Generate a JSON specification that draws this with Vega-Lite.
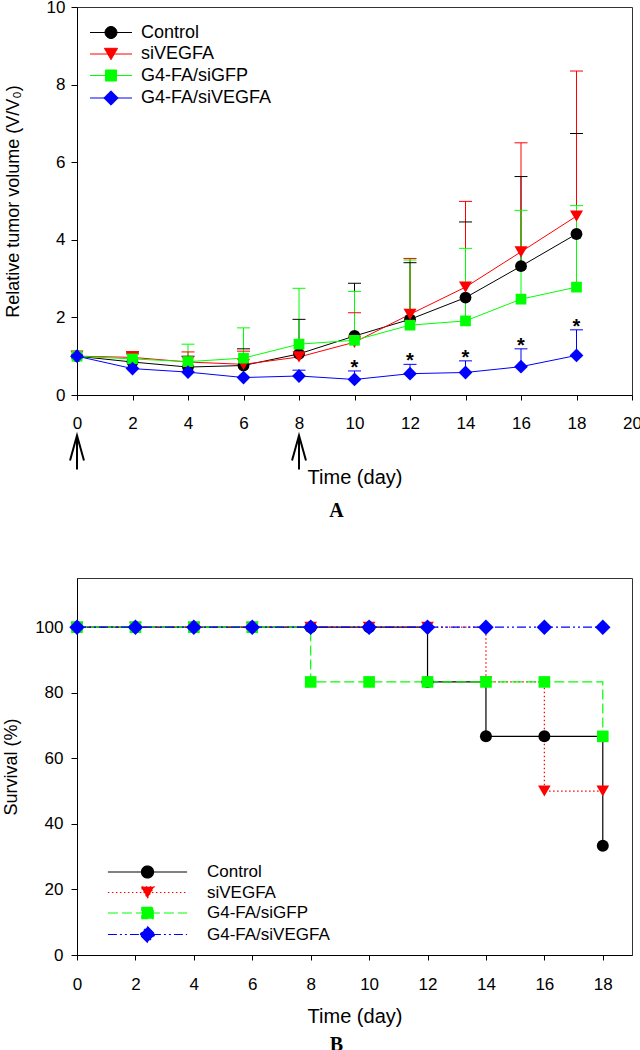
{
  "$schema": "https://vega.github.io/schema/vega-lite/v6.json",
  "background": "white",
  "padding": {"left": 2, "top": -3, "right": 0, "bottom": 0},
  "spacing": 55,
  "columns": 1,
  "resolve": {"scale": {"fill": "independent", "stroke": "independent", "shape": "independent", "strokeDash": "independent"}},
  "config": {
    "font": "Liberation Sans",
    "view": {"stroke": "#333", "strokeWidth": 1},
    "axis": {"domainColor": "black", "tickColor": "black", "labelColor": "black", "titleColor": "black", "grid": false, "labelFont": "Liberation Sans", "titleFont": "Liberation Sans", "labelFontSize": 17, "titleFontWeight": "normal", "titleFontSize": 18, "tickSize": 6, "domainWidth": 1, "tickWidth": 1, "labelFlush": false, "labelOverlap": false},
    "legend": {"labelFont": "Liberation Sans", "labelColor": "black", "padding": 0},
    "title": {"font": "Liberation Serif", "fontWeight": "bold", "fontSize": 20, "orient": "bottom", "anchor": "middle", "color": "black"}
  },
  "datasets": {
    "growth": [
      {"series": "Control", "day": 0, "mean": 1.0}, {"series": "Control", "day": 2, "mean": 0.85}, {"series": "Control", "day": 4, "mean": 0.72}, {"series": "Control", "day": 6, "mean": 0.76}, {"series": "Control", "day": 8, "mean": 1.06}, {"series": "Control", "day": 10, "mean": 1.52}, {"series": "Control", "day": 12, "mean": 1.95}, {"series": "Control", "day": 14, "mean": 2.51}, {"series": "Control", "day": 16, "mean": 3.32}, {"series": "Control", "day": 18, "mean": 4.15},
      {"series": "siVEGFA", "day": 0, "mean": 1.0}, {"series": "siVEGFA", "day": 2, "mean": 0.97}, {"series": "siVEGFA", "day": 4, "mean": 0.85}, {"series": "siVEGFA", "day": 6, "mean": 0.79}, {"series": "siVEGFA", "day": 8, "mean": 0.98}, {"series": "siVEGFA", "day": 10, "mean": 1.36}, {"series": "siVEGFA", "day": 12, "mean": 2.08}, {"series": "siVEGFA", "day": 14, "mean": 2.78}, {"series": "siVEGFA", "day": 16, "mean": 3.69}, {"series": "siVEGFA", "day": 18, "mean": 4.61},
      {"series": "G4-FA/siGFP", "day": 0, "mean": 1.0}, {"series": "G4-FA/siGFP", "day": 2, "mean": 0.93}, {"series": "G4-FA/siGFP", "day": 4, "mean": 0.86}, {"series": "G4-FA/siGFP", "day": 6, "mean": 0.95}, {"series": "G4-FA/siGFP", "day": 8, "mean": 1.31}, {"series": "G4-FA/siGFP", "day": 10, "mean": 1.41}, {"series": "G4-FA/siGFP", "day": 12, "mean": 1.8}, {"series": "G4-FA/siGFP", "day": 14, "mean": 1.91}, {"series": "G4-FA/siGFP", "day": 16, "mean": 2.47}, {"series": "G4-FA/siGFP", "day": 18, "mean": 2.78},
      {"series": "G4-FA/siVEGFA", "day": 0, "mean": 1.0}, {"series": "G4-FA/siVEGFA", "day": 2, "mean": 0.68}, {"series": "G4-FA/siVEGFA", "day": 4, "mean": 0.59}, {"series": "G4-FA/siVEGFA", "day": 6, "mean": 0.45}, {"series": "G4-FA/siVEGFA", "day": 8, "mean": 0.49}, {"series": "G4-FA/siVEGFA", "day": 10, "mean": 0.4}, {"series": "G4-FA/siVEGFA", "day": 12, "mean": 0.55}, {"series": "G4-FA/siVEGFA", "day": 14, "mean": 0.58}, {"series": "G4-FA/siVEGFA", "day": 16, "mean": 0.73}, {"series": "G4-FA/siVEGFA", "day": 18, "mean": 1.02}
    ],
    "err": [
      {"series": "Control", "day": 2, "mean": 0.85, "upper": 1.08}, {"series": "Control", "day": 4, "mean": 0.72, "upper": 1.0}, {"series": "Control", "day": 6, "mean": 0.76, "upper": 1.19}, {"series": "Control", "day": 8, "mean": 1.06, "upper": 1.95}, {"series": "Control", "day": 10, "mean": 1.52, "upper": 2.88}, {"series": "Control", "day": 12, "mean": 1.95, "upper": 3.41}, {"series": "Control", "day": 14, "mean": 2.51, "upper": 4.46}, {"series": "Control", "day": 16, "mean": 3.32, "upper": 5.63}, {"series": "Control", "day": 18, "mean": 4.15, "upper": 6.74},
      {"series": "siVEGFA", "day": 2, "mean": 0.97, "upper": 1.12}, {"series": "siVEGFA", "day": 4, "mean": 0.85, "upper": 1.11}, {"series": "siVEGFA", "day": 6, "mean": 0.79, "upper": 1.13}, {"series": "siVEGFA", "day": 10, "mean": 1.36, "upper": 2.12}, {"series": "siVEGFA", "day": 12, "mean": 2.08, "upper": 3.52}, {"series": "siVEGFA", "day": 14, "mean": 2.78, "upper": 4.99}, {"series": "siVEGFA", "day": 16, "mean": 3.69, "upper": 6.5}, {"series": "siVEGFA", "day": 18, "mean": 4.61, "upper": 8.35},
      {"series": "G4-FA/siGFP", "day": 2, "mean": 0.93, "upper": 1.05}, {"series": "G4-FA/siGFP", "day": 4, "mean": 0.86, "upper": 1.31}, {"series": "G4-FA/siGFP", "day": 6, "mean": 0.95, "upper": 1.73}, {"series": "G4-FA/siGFP", "day": 8, "mean": 1.31, "upper": 2.75}, {"series": "G4-FA/siGFP", "day": 10, "mean": 1.41, "upper": 2.67}, {"series": "G4-FA/siGFP", "day": 12, "mean": 1.8, "upper": 3.48}, {"series": "G4-FA/siGFP", "day": 14, "mean": 1.91, "upper": 3.78}, {"series": "G4-FA/siGFP", "day": 16, "mean": 2.47, "upper": 4.76}, {"series": "G4-FA/siGFP", "day": 18, "mean": 2.78, "upper": 4.88},
      {"series": "G4-FA/siVEGFA", "day": 8, "mean": 0.49, "upper": 0.64}, {"series": "G4-FA/siVEGFA", "day": 10, "mean": 0.4, "upper": 0.62}, {"series": "G4-FA/siVEGFA", "day": 12, "mean": 0.55, "upper": 0.79}, {"series": "G4-FA/siVEGFA", "day": 14, "mean": 0.58, "upper": 0.88}, {"series": "G4-FA/siVEGFA", "day": 16, "mean": 0.73, "upper": 1.19}, {"series": "G4-FA/siVEGFA", "day": 18, "mean": 1.02, "upper": 1.68}
    ],
    "arrows": [{"day": 0}, {"day": 8}],
    "surv": [
      {"series": "Control", "day": 0, "survival": 100}, {"series": "Control", "day": 2, "survival": 100}, {"series": "Control", "day": 4, "survival": 100}, {"series": "Control", "day": 6, "survival": 100}, {"series": "Control", "day": 8, "survival": 100}, {"series": "Control", "day": 10, "survival": 100}, {"series": "Control", "day": 12, "survival": 83.3}, {"series": "Control", "day": 14, "survival": 66.7}, {"series": "Control", "day": 16, "survival": 66.7}, {"series": "Control", "day": 18, "survival": 33.3},
      {"series": "siVEGFA", "day": 0, "survival": 100}, {"series": "siVEGFA", "day": 2, "survival": 100}, {"series": "siVEGFA", "day": 4, "survival": 100}, {"series": "siVEGFA", "day": 6, "survival": 100}, {"series": "siVEGFA", "day": 8, "survival": 100}, {"series": "siVEGFA", "day": 10, "survival": 100}, {"series": "siVEGFA", "day": 12, "survival": 100}, {"series": "siVEGFA", "day": 14, "survival": 83.3}, {"series": "siVEGFA", "day": 16, "survival": 50}, {"series": "siVEGFA", "day": 18, "survival": 50},
      {"series": "G4-FA/siGFP", "day": 0, "survival": 100}, {"series": "G4-FA/siGFP", "day": 2, "survival": 100}, {"series": "G4-FA/siGFP", "day": 4, "survival": 100}, {"series": "G4-FA/siGFP", "day": 6, "survival": 100}, {"series": "G4-FA/siGFP", "day": 8, "survival": 83.3}, {"series": "G4-FA/siGFP", "day": 10, "survival": 83.3}, {"series": "G4-FA/siGFP", "day": 12, "survival": 83.3}, {"series": "G4-FA/siGFP", "day": 14, "survival": 83.3}, {"series": "G4-FA/siGFP", "day": 16, "survival": 83.3}, {"series": "G4-FA/siGFP", "day": 18, "survival": 66.7},
      {"series": "G4-FA/siVEGFA", "day": 0, "survival": 100}, {"series": "G4-FA/siVEGFA", "day": 2, "survival": 100}, {"series": "G4-FA/siVEGFA", "day": 4, "survival": 100}, {"series": "G4-FA/siVEGFA", "day": 6, "survival": 100}, {"series": "G4-FA/siVEGFA", "day": 8, "survival": 100}, {"series": "G4-FA/siVEGFA", "day": 10, "survival": 100}, {"series": "G4-FA/siVEGFA", "day": 12, "survival": 100}, {"series": "G4-FA/siVEGFA", "day": 14, "survival": 100}, {"series": "G4-FA/siVEGFA", "day": 16, "survival": 100}, {"series": "G4-FA/siVEGFA", "day": 18, "survival": 100}
    ]
  },
  "concat": [
    {
      "width": 555,
      "height": 388,
      "title": {"text": "A", "dx": -18, "offset": 14},
      "encoding": {
        "x": {"field": "day", "type": "quantitative", "scale": {"domain": [0, 20], "nice": false}, "axis": {"values": [0, 2, 4, 6, 8, 10, 12, 14, 16, 18, 20], "title": "Time (day)", "tickSize": 5, "labelPadding": 15, "titleFontSize": 20, "titlePadding": 36}}
      },
      "layer": [
        {
          "data": {"name": "err"},
          "mark": {"type": "rule", "strokeWidth": 1},
          "encoding": {
            "y": {"field": "mean", "type": "quantitative", "scale": {"domain": [0, 10], "nice": false}, "axis": {"values": [0, 2, 4, 6, 8, 10], "title": "Relative tumor volume (V/V₀)", "labelPadding": 6, "titlePadding": 24}},
            "y2": {"field": "upper"},
            "stroke": {"field": "series", "type": "nominal", "scale": {"domain": ["Control", "siVEGFA", "G4-FA/siGFP", "G4-FA/siVEGFA"], "range": ["#000000", "#ff0000", "#00ff00", "#0000ff"]}}
          }
        },
        {
          "data": {"name": "err"},
          "mark": {"type": "tick", "orient": "horizontal", "size": 13, "thickness": 1, "opacity": 1},
          "encoding": {
            "y": {"field": "upper", "type": "quantitative", "scale": {"domain": [0, 10], "nice": false}},
            "fill": {"field": "series", "type": "nominal", "scale": {"domain": ["Control", "siVEGFA", "G4-FA/siGFP", "G4-FA/siVEGFA"], "range": ["#000000", "#ff0000", "#00ff00", "#0000ff"]}}
          }
        },
        {
          "data": {"name": "growth"},
          "mark": {"type": "line", "strokeWidth": 1},
          "encoding": {
            "y": {"field": "mean", "type": "quantitative", "scale": {"domain": [0, 10], "nice": false}},
            "stroke": {"field": "series", "type": "nominal", "scale": {"domain": ["Control", "siVEGFA", "G4-FA/siGFP", "G4-FA/siVEGFA"], "range": ["#000000", "#ff0000", "#00ff00", "#0000ff"]}}
          }
        },
        {
          "data": {"name": "growth"},
          "transform": [{"filter": "datum.series === 'Control'"}],
          "mark": {"type": "point", "shape": "circle", "filled": true, "color": "#000000", "size": 140, "opacity": 1},
          "encoding": {"y": {"field": "mean", "type": "quantitative", "scale": {"domain": [0, 10], "nice": false}}}
        },
        {
          "data": {"name": "growth"},
          "transform": [{"filter": "datum.series === 'siVEGFA'"}],
          "mark": {"type": "point", "shape": "triangle-down", "filled": true, "color": "#ff0000", "size": 170, "opacity": 1},
          "encoding": {"y": {"field": "mean", "type": "quantitative", "scale": {"domain": [0, 10], "nice": false}}}
        },
        {
          "data": {"name": "growth"},
          "transform": [{"filter": "datum.series === 'G4-FA/siGFP'"}],
          "mark": {"type": "point", "shape": "square", "filled": true, "color": "#00ff00", "size": 115, "opacity": 1},
          "encoding": {"y": {"field": "mean", "type": "quantitative", "scale": {"domain": [0, 10], "nice": false}}}
        },
        {
          "data": {"name": "growth"},
          "transform": [{"filter": "datum.series === 'G4-FA/siVEGFA'"}],
          "mark": {"type": "point", "shape": "diamond", "filled": true, "color": "#0000ff", "size": 190, "opacity": 1},
          "encoding": {"y": {"field": "mean", "type": "quantitative", "scale": {"domain": [0, 10], "nice": false}}}
        },
        {
          "data": {"name": "err"},
          "transform": [{"filter": "datum.series === 'G4-FA/siVEGFA' && datum.day >= 10"}],
          "mark": {"type": "text", "text": "*", "fontSize": 20, "fontWeight": "bold", "baseline": "alphabetic", "dy": 3, "color": "black"},
          "encoding": {"y": {"field": "upper", "type": "quantitative", "scale": {"domain": [0, 10], "nice": false}}}
        },
        {
          "data": {"name": "arrows"},
          "mark": {"type": "point", "shape": "M-0.41,0.47L0,-1L0.41,0.47M0,-1L0,1", "filled": false, "color": "black", "strokeWidth": 2, "size": 1156, "opacity": 1},
          "encoding": {"y": {"datum": -1.48, "type": "quantitative", "scale": {"domain": [0, 10], "nice": false}}}
        },
        {
          "data": {"name": "growth"},
          "mark": {"type": "point", "filled": true, "opacity": 0, "size": 1},
          "encoding": {
            "y": {"field": "mean", "type": "quantitative", "scale": {"domain": [0, 10], "nice": false}},
            "fill": {"field": "series", "type": "nominal", "scale": {"domain": ["Control", "siVEGFA", "G4-FA/siGFP", "G4-FA/siVEGFA"], "range": ["#000000", "#ff0000", "#00ff00", "#0000ff"]},
              "legend": {"title": null, "orient": "none", "legendX": 25, "legendY": 16.5, "symbolSize": 144, "symbolOpacity": 1, "symbolStrokeWidth": 1, "labelFontSize": 18, "labelOffset": 21, "rowPadding": 3.5, "padding": 0}},
            "stroke": {"field": "series", "type": "nominal", "scale": {"domain": ["Control", "siVEGFA", "G4-FA/siGFP", "G4-FA/siVEGFA"], "range": ["#000000", "#ff0000", "#00ff00", "#0000ff"]},
              "legend": {"title": null, "orient": "none", "legendX": 25, "legendY": 16.5, "symbolSize": 144, "symbolOpacity": 1, "symbolStrokeWidth": 1, "labelFontSize": 18, "labelOffset": 21, "rowPadding": 3.5, "padding": 0}},
            "shape": {"field": "series", "type": "nominal", "scale": {"domain": ["Control", "siVEGFA", "G4-FA/siGFP", "G4-FA/siVEGFA"], "range": ["M-3.5,0L3.5,0M1,0A1,1,0,1,1,-1,0A1,1,0,1,1,1,0Z", "M-3.5,0L3.5,0M0,0.95L1.1,-0.95L-1.1,-0.95Z", "M-3.5,0L3.5,0M-0.92,-0.92L0.92,-0.92L0.92,0.92L-0.92,0.92Z", "M-3.5,0L3.5,0M0,-1.2L1.2,0L0,1.2L-1.2,0Z"]},
              "legend": {"title": null, "orient": "none", "legendX": 25, "legendY": 16.5, "symbolSize": 144, "symbolOpacity": 1, "symbolStrokeWidth": 1, "labelFontSize": 18, "labelOffset": 21, "rowPadding": 3.5, "padding": 0}}
          }
        }
      ]
    },
    {
      "width": 555,
      "height": 377,
      "data": {"name": "surv"},
      "title": {"text": "B", "dx": -18, "offset": 9},
      "encoding": {
        "x": {"field": "day", "type": "quantitative", "scale": {"domain": [0, 19], "nice": false}, "axis": {"values": [0, 2, 4, 6, 8, 10, 12, 14, 16, 18], "title": "Time (day)", "tickSize": 5, "labelPadding": 16, "titleFontSize": 20, "titlePadding": 14}},
        "y": {"field": "survival", "type": "quantitative", "scale": {"domain": [0, 115], "nice": false}, "axis": {"values": [0, 20, 40, 60, 80, 100], "title": "Survival (%)", "labelPadding": 8, "titlePadding": 14}}
      },
      "layer": [
        {
          "mark": {"type": "line", "interpolate": "step-after", "strokeWidth": 1.2},
          "encoding": {
            "stroke": {"field": "series", "type": "nominal", "scale": {"domain": ["Control", "siVEGFA", "G4-FA/siGFP", "G4-FA/siVEGFA"], "range": ["#000000", "#ff0000", "#00ff00", "#0000ff"]}},
            "strokeDash": {"field": "series", "type": "nominal", "scale": {"domain": ["Control", "siVEGFA", "G4-FA/siGFP", "G4-FA/siVEGFA"], "range": [[1, 0], [1.5, 2.5], [10, 4], [9, 3, 2, 3, 2, 3]]}}
          }
        },
        {
          "transform": [{"filter": "datum.series === 'Control'"}],
          "mark": {"type": "point", "shape": "circle", "filled": true, "color": "#000000", "size": 144, "opacity": 1}
        },
        {
          "transform": [{"filter": "datum.series === 'siVEGFA'"}],
          "mark": {"type": "point", "shape": "triangle-down", "filled": true, "color": "#ff0000", "size": 160, "opacity": 1}
        },
        {
          "transform": [{"filter": "datum.series === 'G4-FA/siGFP'"}],
          "mark": {"type": "point", "shape": "square", "filled": true, "color": "#00ff00", "size": 135, "opacity": 1}
        },
        {
          "transform": [{"filter": "datum.series === 'G4-FA/siVEGFA'"}],
          "mark": {"type": "point", "shape": "diamond", "filled": true, "color": "#0000ff", "size": 240, "opacity": 1}
        },
        {
          "mark": {"type": "point", "filled": true, "opacity": 0, "size": 1},
          "encoding": {
            "fill": {"field": "series", "type": "nominal", "scale": {"domain": ["Control", "siVEGFA", "G4-FA/siGFP", "G4-FA/siVEGFA"], "range": ["#000000", "#ff0000", "#00ff00", "#0000ff"]},
              "legend": {"title": null, "orient": "none", "legendX": 62, "legendY": 285.5, "symbolSize": 144, "symbolOpacity": 1, "symbolStrokeWidth": 1.2, "labelFontSize": 17, "labelOffset": 51, "rowPadding": 2.5, "padding": 0}},
            "stroke": {"field": "series", "type": "nominal", "scale": {"domain": ["Control", "siVEGFA", "G4-FA/siGFP", "G4-FA/siVEGFA"], "range": ["#000000", "#ff0000", "#00ff00", "#0000ff"]},
              "legend": {"title": null, "orient": "none", "legendX": 62, "legendY": 285.5, "symbolSize": 144, "symbolOpacity": 1, "symbolStrokeWidth": 1.2, "labelFontSize": 17, "labelOffset": 51, "rowPadding": 2.5, "padding": 0}},
            "strokeDash": {"field": "series", "type": "nominal", "scale": {"domain": ["Control", "siVEGFA", "G4-FA/siGFP", "G4-FA/siVEGFA"], "range": [[1, 0], [1.5, 2.5], [10, 4], [9, 3, 2, 3, 2, 3]]},
              "legend": {"title": null, "orient": "none", "legendX": 62, "legendY": 285.5, "symbolSize": 144, "symbolOpacity": 1, "symbolStrokeWidth": 1.2, "labelFontSize": 17, "labelOffset": 51, "rowPadding": 2.5, "padding": 0}},
            "shape": {"field": "series", "type": "nominal", "scale": {"domain": ["Control", "siVEGFA", "G4-FA/siGFP", "G4-FA/siVEGFA"], "range": ["M-6.6,0L6.6,0M1,0A1,1,0,1,1,-1,0A1,1,0,1,1,1,0Z", "M-6.6,0L6.6,0M0,0.95L1.1,-0.95L-1.1,-0.95Z", "M-6.6,0L6.6,0M-0.95,-0.95L0.95,-0.95L0.95,0.95L-0.95,0.95Z", "M-6.6,0L6.6,0M0,-1.3L1.3,0L0,1.3L-1.3,0Z"]},
              "legend": {"title": null, "orient": "none", "legendX": 62, "legendY": 285.5, "symbolSize": 144, "symbolOpacity": 1, "symbolStrokeWidth": 1.2, "labelFontSize": 17, "labelOffset": 51, "rowPadding": 2.5, "padding": 0}}
          }
        }
      ]
    }
  ]
}
